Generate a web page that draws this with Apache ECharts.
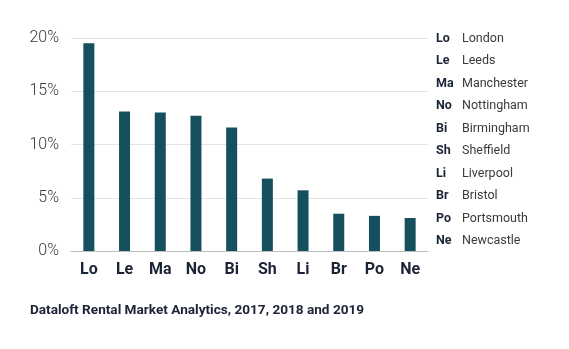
<!DOCTYPE html>
<html>
<head>
<meta charset="utf-8">
<script src="https://cdn.jsdelivr.net/npm/echarts@6/dist/echarts.min.js"></script>
<style>
  html, body { margin: 0; padding: 0; background: #ffffff; }
  #chart { width: 569px; height: 349px; }
</style>
</head>
<body>
<div id="chart"></div>
<script>
// City abbreviations, full names and share of rental market (%)
const codes = ['Lo', 'Le', 'Ma', 'No', 'Bi', 'Sh', 'Li', 'Br', 'Po', 'Ne'];
const cities = ['London', 'Leeds', 'Manchester', 'Nottingham', 'Birmingham', 'Sheffield', 'Liverpool', 'Bristol', 'Portsmouth', 'Newcastle'];
const shares = [19.5, 13.1, 13.0, 12.7, 11.6, 6.8, 5.7, 3.5, 3.3, 3.1];
const yTicks = [0, 5, 10, 15, 20];
const source = 'Dataloft Rental Market Analytics, 2017, 2018 and 2019';

const FONT = 'Roboto, "Noto Sans", sans-serif';
const NAVY = '#1b2336';
const TEAL = '#164f5e';

const chart = echarts.init(document.getElementById('chart'), null, { renderer: 'canvas' });

// Key on the right: bold abbreviation followed by full city name
const keyItems = [];
codes.forEach((c, i) => {
  const y = 39 + i * 22.5;
  keyItems.push({
    type: 'text', left: 436, top: y - 7,
    style: { text: c, font: 'bold 12.5px ' + FONT, fill: NAVY }
  });
  keyItems.push({
    type: 'text', left: 462, top: y - 7,
    style: { text: cities[i], font: '12.5px ' + FONT, fill: '#3a3a3a' }
  });
});

chart.setOption({
  animation: false,
  grid: { left: 71, right: 141, top: 38, bottom: 98 },
  xAxis: {
    type: 'category',
    data: codes,
    axisLine: { show: true, lineStyle: { color: '#bdbdbd', width: 1 } },
    axisTick: { show: false },
    axisLabel: {
      margin: 11,
      fontFamily: FONT, fontSize: 16, fontWeight: 'bold', color: NAVY
    }
  },
  yAxis: {
    type: 'value',
    min: yTicks[0],
    max: yTicks[yTicks.length - 1],
    interval: 5,
    axisLine: { show: false },
    axisTick: { show: false },
    splitLine: { lineStyle: { color: '#e3e3e3', width: 1 } },
    axisLabel: {
      margin: 12,
      fontFamily: FONT, fontSize: 16, fontWeight: 300, color: '#3a3a3a',
      formatter: v => v + '%'
    }
  },
  series: [{
    type: 'bar',
    data: shares,
    barWidth: 11,
    itemStyle: { color: TEAL }
  }],
  graphic: keyItems.concat([{
    type: 'text', left: 30, top: 304,
    style: { text: source, font: 'bold 13.6px ' + FONT, fill: NAVY }
  }])
});
</script>
</body>
</html>
